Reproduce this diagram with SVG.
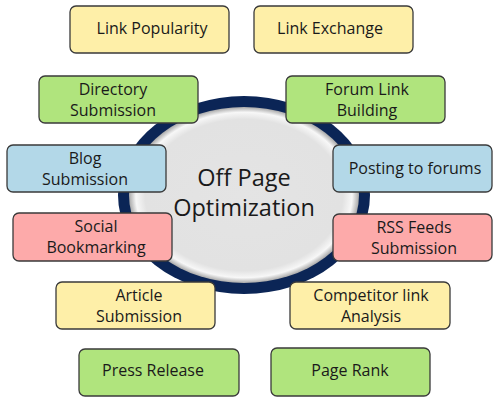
<svg xmlns="http://www.w3.org/2000/svg" width="500" height="400" viewBox="0 0 500 400">
<defs>
<radialGradient id="hub" cx="50%" cy="50%" r="50%">
<stop offset="0" stop-color="#e4e4e4"/>
<stop offset="0.86" stop-color="#e2e2e2"/>
<stop offset="0.94" stop-color="#f7f7f7"/>
<stop offset="1" stop-color="#a9a9a9"/>
</radialGradient>
</defs>
<style>
.box{stroke:#3a3a3a;stroke-width:1.3}
.y{fill:#feefa8}.g{fill:#b0e47d}.b{fill:#b3d8e8}.p{fill:#fdaaaa}
text{font-family:"Open Sans","DejaVu Sans",sans-serif;font-size:16px;fill:#1a1a1a;text-anchor:middle}
.hubt{font-size:23.5px}
</style>
<rect width="500" height="400" fill="#ffffff"/>
<g id="hub-node">
<ellipse cx="244" cy="195" rx="126" ry="99" fill="#0b2556"/>
<ellipse cx="244" cy="195" rx="115" ry="88" fill="url(#hub)"/>
<text class="hubt" x="244" y="186">Off Page</text>
<text class="hubt" x="244" y="216">Optimization</text>
</g>
<g id="connectors"></g>
<g id="link-popularity"><rect class="box y" x="70" y="6" width="159" height="47" rx="6"/><text x="152" y="34">Link Popularity</text></g>
<g id="link-exchange"><rect class="box y" x="254" y="6" width="159" height="47" rx="6"/><text x="330" y="34">Link Exchange</text></g>
<g id="directory-submission"><rect class="box g" x="39" y="76" width="159" height="47" rx="6"/><text x="113" y="95">Directory</text><text x="113" y="116">Submission</text></g>
<g id="forum-link-building"><rect class="box g" x="286" y="76" width="159" height="47" rx="6"/><text x="367" y="95">Forum Link</text><text x="367" y="116">Building</text></g>
<g id="blog-submission"><rect class="box b" x="7" y="145" width="159" height="47" rx="6"/><text x="85" y="164">Blog</text><text x="85" y="185">Submission</text></g>
<g id="posting-to-forums"><rect class="box b" x="333" y="145" width="159" height="47" rx="6"/><text x="415" y="174">Posting to forums</text></g>
<g id="social-bookmarking"><rect class="box p" x="13" y="213" width="159" height="48" rx="6"/><text x="96" y="232">Social</text><text x="96" y="253">Bookmarking</text></g>
<g id="rss-feeds-submission"><rect class="box p" x="333" y="214" width="159" height="47" rx="6"/><text x="414" y="233">RSS Feeds</text><text x="414" y="254">Submission</text></g>
<g id="article-submission"><rect class="box y" x="56" y="282" width="159" height="47" rx="6"/><text x="139" y="301">Article</text><text x="139" y="322">Submission</text></g>
<g id="competitor-link-analysis"><rect class="box y" x="290" y="282" width="160" height="47" rx="6"/><text x="371" y="301">Competitor link</text><text x="371" y="322">Analysis</text></g>
<g id="press-release"><rect class="box g" x="79" y="349" width="160" height="47" rx="6"/><text x="153" y="376">Press Release</text></g>
<g id="page-rank"><rect class="box g" x="271" y="348" width="159" height="48" rx="6"/><text x="350" y="376">Page Rank</text></g>
</svg>
